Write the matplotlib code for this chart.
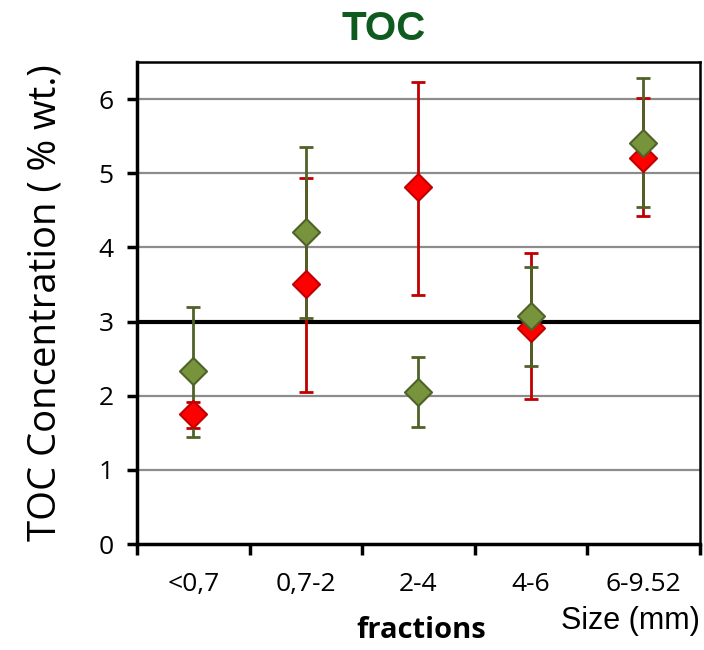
import numpy as np
import matplotlib
matplotlib.use('Agg')
import matplotlib.pyplot as plt

categories = ['<0,7', '0,7-2', '2-4', '4-6', '6-9.52']

# green series: value, upper / lower error limits
green_vals = [2.34, 4.21, 2.05, 3.07, 5.41]
green_hi = [3.20, 5.36, 2.52, 3.74, 6.29]
green_lo = [1.45, 3.05, 1.58, 2.40, 4.54]

# red series
red_vals = [1.75, 3.50, 4.81, 2.92, 5.21]
red_hi = [1.91, 4.93, 6.23, 3.92, 6.02]
red_lo = [1.56, 2.05, 3.36, 1.95, 4.43]

y_ticks = [0, 1, 2, 3, 4, 5, 6]
ref_line = 3

FONT = 'Open Sans'

fig = plt.figure(figsize=(7.04, 6.5), dpi=100)
ax = fig.add_axes([0.1946, 0.163, 0.7994, 0.7416])

x = np.arange(len(categories))

# grid
for t in y_ticks[1:]:
    ax.axhline(t, color='#8c8c8c', lw=1.6, zorder=1)
ax.axhline(ref_line, color='black', lw=3, zorder=2)

def draw(vals, hi, lo, line_c, face_c, z):
    vals = np.array(vals)
    err = [vals - np.array(lo), np.array(hi) - vals]
    ax.errorbar(x, vals, yerr=err, fmt='none', ecolor=line_c, elinewidth=2,
                capsize=5, capthick=2, zorder=z)
    ax.scatter(x, vals, marker='D', s=190, facecolor=face_c, edgecolor=line_c,
               linewidth=1.5, zorder=z + 2)

draw(red_vals, red_hi, red_lo, '#C00000', '#FF0000', 3)
draw(green_vals, green_hi, green_lo, '#4F6228', '#77933C', 4)

ax.set_xlim(-0.5, len(categories) - 0.5)
ax.set_ylim(0, 6.5)
ax.set_yticks(y_ticks)
ax.set_yticklabels([str(t) for t in y_ticks], fontsize=19, family=FONT)
ax.set_xticks(np.arange(len(categories) + 1) - 0.5)
ax.set_xticklabels([])
ax.set_xticks(x, minor=True)
ax.set_xticklabels(categories, minor=True, fontsize=19, family=FONT)
ax.tick_params(axis='x', which='major', length=8, width=2.5, direction='out')
ax.tick_params(axis='x', which='minor', length=0, pad=20)
ax.tick_params(axis='y', length=7, width=2.5, direction='out', pad=10)

for s in ['left', 'bottom']:
    ax.spines[s].set_linewidth(2.5)
for s in ['top', 'right']:
    ax.spines[s].set_linewidth(1.8)

ax.set_ylabel('TOC Concentration ( % wt.)', fontsize=27.5, family=FONT, labelpad=24)
fig.text(0.545, 0.985, 'TOC', ha='center', va='top', fontsize=29, fontweight='bold',
         color='#0F5A1E', family='Liberation Sans')
fig.text(0.598, 0.008, 'fractions', ha='center', va='bottom', fontsize=21,
         fontweight='bold', family=FONT)
fig.text(0.994, 0.022, 'Size (mm)', ha='right', va='bottom', fontsize=22,
         family='Liberation Sans')

plt.savefig('out.png', dpi=100)
